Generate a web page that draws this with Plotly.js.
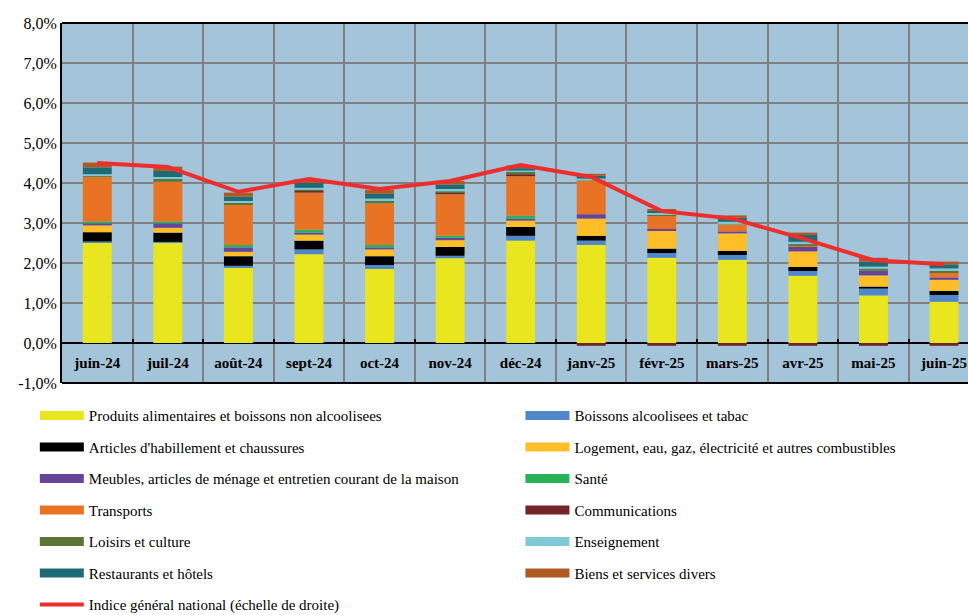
<!DOCTYPE html>
<html><head><meta charset="utf-8">
<script src="https://cdn.plot.ly/plotly-3.0.1.min.js"></script>
<style>html,body{margin:0;padding:0;background:#fff}#chart{width:968px;height:615px}</style>
</head><body><div id="chart"></div>
<script>
const months = ["juin-24","juil-24","août-24","sept-24","oct-24","nov-24","déc-24","janv-25","févr-25","mars-25","avr-25","mai-25","juin-25"];

const seriesNames = [
  "Produits alimentaires et boissons non alcoolisees",
  "Boissons alcoolisees et tabac",
  "Articles d'habillement et chaussures",
  "Logement, eau, gaz, électricité et autres combustibles",
  "Meubles, articles de ménage et entretien courant de la maison",
  "Santé",
  "Transports",
  "Communications",
  "Loisirs et culture",
  "Enseignement",
  "Restaurants et hôtels",
  "Biens et services divers"
];
const lineName = "Indice général national (échelle de droite)";

const produits      = [2.50, 2.50, 1.89, 2.22, 1.85, 2.12, 2.56, 2.45, 2.13, 2.08, 1.68, 1.19, 1.03];
const boissons      = [0.04, 0.03, 0.04, 0.12, 0.10, 0.06, 0.12, 0.11, 0.12, 0.12, 0.12, 0.17, 0.17];
const habillement   = [0.23, 0.23, 0.24, 0.22, 0.22, 0.22, 0.22, 0.12, 0.11, 0.10, 0.10, 0.05, 0.10];
const logement      = [0.17, 0.12, 0.11, 0.15, 0.17, 0.17, 0.16, 0.43, 0.44, 0.44, 0.39, 0.28, 0.28];
const meubles       = [0.05, 0.11, 0.11, 0.05, 0.05, 0.06, 0.05, 0.11, 0.05, 0.05, 0.12, 0.12, 0.06];
const sante         = [0.05, 0.05, 0.06, 0.07, 0.06, 0.05, 0.07, 0.00, 0.00, 0.00, 0.00, 0.00, 0.00];
const transports    = [1.11, 0.99, 1.00, 0.93, 1.04, 1.04, 0.99, 0.83, 0.34, 0.16, 0.03, 0.00, 0.11];
const communications= [0.00, 0.00, 0.00, 0.05, 0.00, 0.05, 0.05, -0.07, -0.07, -0.07, -0.07, -0.07, -0.07];
const loisirs       = [0.02, 0.07, 0.05, 0.02, 0.06, 0.02, 0.06, 0.01, 0.01, 0.01, 0.03, 0.05, 0.05];
const enseignement  = [0.05, 0.05, 0.05, 0.05, 0.06, 0.06, 0.03, 0.05, 0.05, 0.07, 0.06, 0.05, 0.065];
const restaurants   = [0.17, 0.15, 0.11, 0.12, 0.12, 0.11, 0.06, 0.07, 0.05, 0.10, 0.17, 0.12, 0.10];
const biens         = [0.12, 0.11, 0.10, 0.10, 0.10, 0.09, 0.07, 0.05, 0.05, 0.06, 0.06, 0.10, 0.07];

const indice        = [4.50, 4.40, 3.78, 4.10, 3.85, 4.05, 4.45, 4.15, 3.30, 3.11, 2.61, 2.07, 1.97];

const yTickVals  = [-1, 0, 1, 2, 3, 4, 5, 6, 7, 8];
const yTickText  = ["-1,0%","0,0%","1,0%","2,0%","3,0%","4,0%","5,0%","6,0%","7,0%","8,0%"];

const seriesValues = [produits, boissons, habillement, logement, meubles, sante, transports, communications, loisirs, enseignement, restaurants, biens];
const seriesColors = ["#E9E51F","#5087C8","#000000","#FEBE28","#65449A","#2AB25B","#E87324","#722428","#5B7535","#7FC8D6","#1F6A77","#AE5A23"];

const FONT = "Liberation Serif";
const traces = [];
seriesValues.forEach((vals, i) => {
  traces.push({
    type: "bar", x: months, y: vals, name: seriesNames[i],
    marker: {color: seriesColors[i], line: {width: 0}},
    showlegend: false, hoverinfo: "x+y+name"
  });
});
// legend entries (two columns)
seriesValues.forEach((vals, i) => {
  traces.push({
    type: "scatter", mode: "lines", x: [null], y: [null], name: seriesNames[i],
    line: {color: seriesColors[i], width: 9},
    legend: (i % 2 === 0) ? "legend" : "legend2",
    legendgroup: "g" + i, showlegend: true, hoverinfo: "skip"
  });
});
traces.push({
  type: "scatter", mode: "lines", x: months, y: indice, name: lineName,
  line: {color: "#EE2D2D", width: 4},
  legend: "legend", legendgroup: "gline", showlegend: true
});

const legendBase = {
  orientation: "v", xanchor: "left", yanchor: "top", traceorder: "grouped",
  tracegroupgap: 9, bgcolor: "rgba(0,0,0,0)", itemwidth: 44, itemclick: false, itemdoubleclick: false,
  font: {family: FONT, size: 15, color: "#000"}
};

const layout = {
  width: 968, height: 615,
  margin: {l: 62, r: 0, t: 23, b: 232, pad: 0, autoexpand: false},
  paper_bgcolor: "#FFFFFF",
  plot_bgcolor: "#A3C4D9",
  barmode: "relative",
  bargap: 0.59,
  font: {family: FONT, color: "#000"},
  xaxis: {
    type: "category", range: [-0.5, 12.34], anchor: "free", position: 1/9,
    tickson: "boundaries", showgrid: true, gridcolor: "#808080", gridwidth: 2,
    showline: false, ticks: "inside", ticklen: 4, tickwidth: 2, tickcolor: "#000",
    tickfont: {family: FONT, size: 15, weight: "bold", color: "#000"},
    ticklabelstandoff: 9, fixedrange: true
  },
  yaxis: {
    range: [-1, 8], tickvals: yTickVals, ticktext: yTickText,
    showgrid: true, gridcolor: "#808080", gridwidth: 2,
    zeroline: true, zerolinecolor: "#000", zerolinewidth: 2,
    showline: true, linecolor: "#000", linewidth: 2, ticks: "",
    tickfont: {family: FONT, size: 16, color: "#000"}, fixedrange: true
  },
  legend: Object.assign({}, legendBase, {x: -0.03, y: -0.045}),
  legend2: Object.assign({}, legendBase, {x: 0.506, y: -0.045}),
  shapes: [
    {type: "line", xref: "paper", yref: "paper", x0: 0, x1: 1, y0: 1, y1: 1, line: {color: "#000", width: 2}},
    {type: "line", xref: "paper", yref: "paper", x0: 0, x1: 1, y0: 0, y1: 0, line: {color: "#000", width: 2}}
  ]
};

Plotly.newPlot("chart", traces, layout, {displayModeBar: false, staticPlot: false});
</script></body></html>
